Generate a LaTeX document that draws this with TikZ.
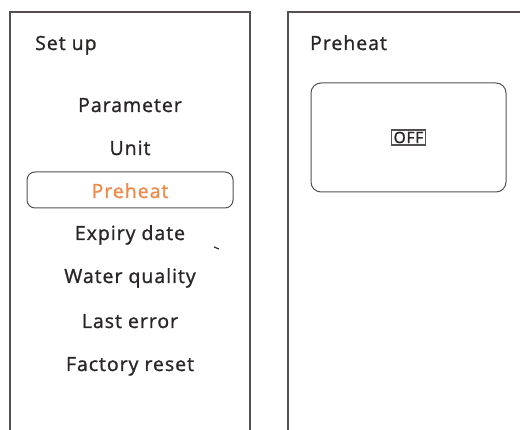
\documentclass[tikz,border=0pt]{standalone}
\usepackage{fontspec}
\setmainfont[LetterSpace=5,FakeBold=1.2]{Open Sans}
\definecolor{ink}{HTML}{2A2626}
\definecolor{frame}{HTML}{555050}
\definecolor{accent}{HTML}{EE8A4C}
\begin{document}
\begin{tikzpicture}[x=1pt,y=-1pt,
  panel/.style={draw=frame,line width=1.4pt},
  menuitem/.style={anchor=base,text=ink,font=\fontsize{19.5}{22}\selectfont,inner sep=0pt},
  title/.style={anchor=base west,text=ink,font=\fontsize{19.5}{22}\selectfont,inner sep=0pt},
  selbox/.style={draw=frame,line width=1pt,rounded corners=8pt},
  valbox/.style={draw=frame,line width=1pt,rounded corners=10pt}]
\useasboundingbox[fill=white] (0,0) rectangle (520,430);
% left panel
\draw[panel] (10,430) -- (10,12) -- (250,12) -- (250,430);
% right panel
\draw[panel] (288,430) -- (288,12) -- (521,12);
% titles
\node[title] (t1) at (35,50) {Set up};
\node[title] (t2) at (310,50) {Preheat};
% menu
\node[selbox,minimum width=206pt,minimum height=36pt] (sel) at (130,190) {};
\node[menuitem] (m1) at (130,112) {Parameter};
\node[menuitem] (m2) at (130,155) {Unit};
\node[menuitem,text=accent] (m3) at (130,198) {Preheat};
\node[menuitem] (m4) at (130,240) {Expiry date};
\node[menuitem] (m5) at (130,283) {Water quality};
\node[menuitem] (m6) at (130,328) {Last error};
\node[menuitem] (m7) at (130,371) {Factory reset};
\draw[ink,line width=1.2pt] (214,247) -- (219,249);
% value box
\node[valbox,minimum width=195pt,minimum height=109pt] (vb) at (408.5,137.5) {};
\node[draw=frame,line width=1.1pt,inner xsep=2.5pt,inner ysep=1.8pt,text=ink,
  font=\fontsize{15.5}{17}\selectfont] (off) at (408.5,137.5) {OFF};
\end{tikzpicture}
\end{document}
